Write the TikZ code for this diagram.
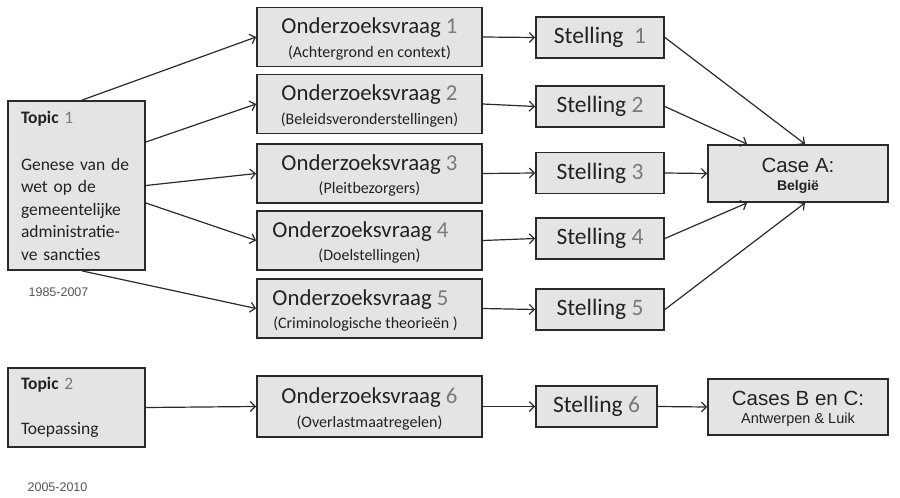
\documentclass[tikz,border=0pt]{standalone}
\usepackage{fontspec}
\setmainfont{Carlito}
\newfontfamily\arialf{Liberation Sans}
\usetikzlibrary{arrows.meta}
\definecolor{boxfill}{HTML}{E4E4E4}
\definecolor{boxline}{HTML}{2A2A2A}
\definecolor{numgray}{HTML}{7A7A7A}
\definecolor{txt}{HTML}{222222}
\definecolor{yrgray}{HTML}{555555}
\begin{document}
\begin{tikzpicture}[x=1pt,y=-1pt,
  box/.style={draw=boxline, line width=1.8pt, fill=boxfill, inner sep=0pt, align=center, text=txt},
  ozbox/.style={box, minimum width=225pt, minimum height=59pt},
  ozmain/.style={inner sep=0pt, text=txt, font=\fontsize{22.8}{26}\selectfont},
  ozsub/.style={inner sep=0pt, text=txt, font=\fontsize{16}{18}\selectfont},
  stbox/.style={box, minimum width=128pt, minimum height=41pt, font=\fontsize{23.5}{26}\selectfont},
  casebox/.style={box, minimum width=180pt, minimum height=57pt},
  casemain/.style={inner sep=0pt, text=txt, font=\arialf\fontsize{20.5}{23}\selectfont},
  casesub/.style={inner sep=0pt, text=txt, font=\arialf\fontsize{14.5}{16}\selectfont},
  topicbox/.style={box, minimum width=137pt, text width=111pt, align=left, font=\fontsize{17.5}{22.5}\selectfont},
  arr/.style={-{Straight Barb[length=5pt,width=10pt]}, line width=1.2pt, draw=boxline},
  yr/.style={font=\arialf\fontsize{12.5}{14}\selectfont, text=yrgray, inner sep=0pt}
]
\useasboundingbox (0,0) rectangle (900,498);
\newcommand{\gnum}[1]{{\color{numgray}#1}}

% Topic boxes
\node[topicbox, minimum height=169pt] (t1) at (76.5,185.5)
  {\vspace*{2pt}\textbf{Topic} \gnum{1}\\[22.5pt]Genese van de\\wet op de\\gemeentelijke\\administratie-\\ve sancties};
\node[yr] (y1) at (58.5,292) {1985-2007};

\node[topicbox, minimum height=79pt] (t2) at (76.5,407.5)
  {\textbf{Topic} \gnum{2}\\[22pt]Toepassing};
\node[yr] (y2) at (57.5,487) {2005-2010};

% Onderzoeksvraag boxes
\node[ozbox] (oz1) at (369.5,37) {};
\node[ozmain] (oz1m) at ([yshift=9pt]oz1.center) {Onderzoeksvraag \gnum{1}};
\node[ozsub] (oz1s) at ([yshift=-16pt]oz1.center) {(Achtergrond en context)};

\node[ozbox] (oz2) at (369.5,104) {};
\node[ozmain] (oz2m) at ([yshift=9pt]oz2.center) {Onderzoeksvraag \gnum{2}};
\node[ozsub] (oz2s) at ([yshift=-16pt]oz2.center) {(Beleidsveronderstellingen)};

\node[ozbox] (oz3) at (369.5,173.5) {};
\node[ozmain] (oz3m) at ([yshift=9pt]oz3.center) {Onderzoeksvraag \gnum{3}};
\node[ozsub] (oz3s) at ([yshift=-16pt]oz3.center) {(Pleitbezorgers)};

\node[ozbox] (oz4) at (369.5,240.5) {};
\node[ozmain] (oz4m) at ([xshift=-9pt,yshift=9pt]oz4.center) {Onderzoeksvraag \gnum{4}};
\node[ozsub] (oz4s) at ([yshift=-16pt]oz4.center) {(Doelstellingen)};

\node[ozbox] (oz5) at (369.5,308.5) {};
\node[ozmain] (oz5m) at ([xshift=-9pt,yshift=9pt]oz5.center) {Onderzoeksvraag \gnum{5}};
\node[ozsub] (oz5s) at ([xshift=-4pt,yshift=-16pt]oz5.center) {(Criminologische theorieën )};

\node[ozbox, minimum height=61pt] (oz6) at (369.5,406.5) {};
\node[ozmain] (oz6m) at ([yshift=8.5pt]oz6.center) {Onderzoeksvraag \gnum{6}};
\node[ozsub] (oz6s) at ([yshift=-16.5pt]oz6.center) {(Overlastmaatregelen)};

% Stelling boxes
\node[stbox] (s1) at (600,37.5) {Stelling~ \gnum{1}};
\node[stbox] (s2) at (600,106.5) {Stelling \gnum{2}};
\node[stbox] (s3) at (600,173) {Stelling \gnum{3}};
\node[stbox] (s4) at (600,238.5) {Stelling \gnum{4}};
\node[stbox] (s5) at (600,309.5) {Stelling \gnum{5}};
\node[stbox, minimum width=121pt] (s6) at (596.5,406.5) {Stelling \gnum{6}};

% Case boxes
\node[casebox] (ca) at (798,173.5) {};
\node[casemain] (cam) at ([yshift=8.5pt]ca.center) {Case A:};
\node[casesub, font=\arialf\bfseries\fontsize{14}{16}\selectfont] (cas) at ([yshift=-13.5pt]ca.center) {België};

\node[casebox, minimum height=56pt] (cb) at (798,407) {};
\node[casemain] (cbm) at ([yshift=9pt]cb.center) {Cases B en C:};
\node[casesub] (cbs) at ([yshift=-13pt]cb.center) {Antwerpen \& Luik};

% Connectors: topic 1 -> questions
\draw[arr] ([xshift=5.5pt]t1.north) -- (oz1.west);
\draw[arr] ([yshift=43.5pt]t1.east) -- (oz2.west);
\draw[arr] (t1.east) -- (oz3.west);
\draw[arr] ([yshift=-17.5pt]t1.east) -- (oz4.west);
\draw[arr] ([xshift=5.5pt]t1.south) -- (oz5.west);
\draw[arr] (t2.east) -- (oz6.west);

% questions -> stellingen
\foreach \i in {1,...,6} {
  \draw[arr] (oz\i.east) -- (s\i.west);
}

% stellingen -> cases
\draw[arr] (s1.east) -- ([xshift=7pt]ca.north);
\draw[arr] (s2.east) -- ([xshift=-51pt]ca.north);
\draw[arr] (s3.east) -- (ca.west);
\draw[arr] (s4.east) -- ([xshift=-51pt]ca.south);
\draw[arr] (s5.east) -- ([xshift=7pt]ca.south);
\draw[arr] (s6.east) -- (cb.west);
\end{tikzpicture}
\end{document}
